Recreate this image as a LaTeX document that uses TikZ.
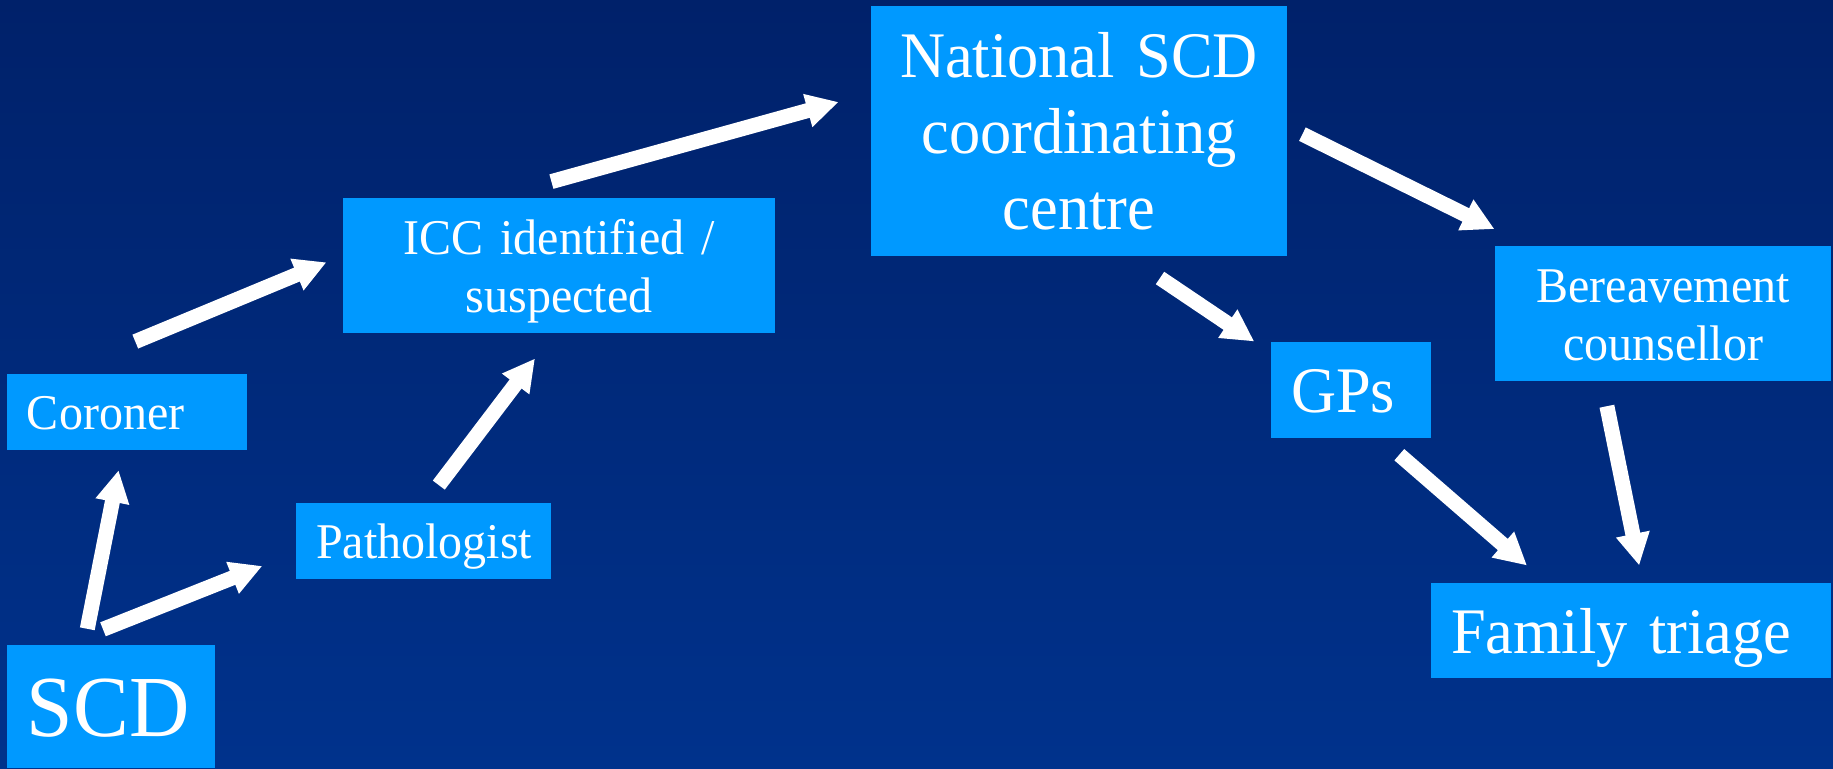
\documentclass[tikz,border=0pt]{standalone}
\usepackage{fontspec}
\setmainfont{Liberation Serif}[FakeStretch=0.96]
\usetikzlibrary{arrows.meta,calc}

\definecolor{bgtop}{HTML}{00216A}
\definecolor{bgbottom}{HTML}{00328C}
\definecolor{boxblue}{HTML}{0099FF}

% struts that give every line of box text the same cap room and descender room
\newcommand\capstrut{\rule{0pt}{0.95em}}
\newcommand\descstrut{\rule[-0.25em]{0pt}{0.25em}}

\begin{document}
\begin{tikzpicture}[
  x=1pt, y=-1pt,
  box/.style={rectangle, fill=boxblue, text=white, inner ysep=0pt},
  leftbox/.style={box, inner xsep=20pt, align=left},
  midbox/.style={box, inner xsep=10pt, align=center},
  huge text/.style={font=\fontsize{87}{100}\selectfont},
  big text/.style={font=\fontsize{65}{76}\selectfont},
  mid text/.style={font=\fontsize{50}{58}\selectfont},
  flowarrow/.style={draw=white, line width=15pt,
    -{Triangle[length=32pt,width=32pt]}},
]
\useasboundingbox (0,0) rectangle (1833,768);
\shade[top color=bgtop, bottom color=bgbottom] (0,0) rectangle (1833,768);

% boxes
\node[leftbox, huge text, minimum width=208pt, minimum height=123pt, text width=168pt]
  (scd) at (111,706.5) {\capstrut SCD\descstrut};
\node[leftbox, mid text, minimum width=240pt, minimum height=76pt, text width=200pt]
  (coroner) at (127,412) {\capstrut Coroner\descstrut};
\node[leftbox, mid text, minimum width=255pt, minimum height=76pt, text width=215pt]
  (path) at (423.5,541) {\capstrut Pathologist\descstrut};
\node[midbox, mid text, minimum width=432pt, minimum height=135pt, text width=412pt]
  (icc) at (559,265.5) {\capstrut ICC identified /\\suspected\descstrut};
\node[midbox, big text, minimum width=416pt, minimum height=250pt, text width=396pt]
  (nat) at (1079,131) {\capstrut National SCD\\coordinating\\centre\descstrut};
\node[leftbox, big text, minimum width=160pt, minimum height=96pt, text width=120pt]
  (gps) at (1351,390) {\capstrut GPs\descstrut};
\node[midbox, mid text, minimum width=336pt, minimum height=135pt, text width=316pt]
  (ber) at (1663,313.5) {\capstrut Bereavement\\counsellor\descstrut};
\node[leftbox, big text, minimum width=400pt, minimum height=95pt, text width=360pt]
  (fam) at (1631,630.5) {\capstrut Family triage\descstrut};

% referral arrows
\draw[flowarrow] ($(scd.north)+(-23.7,-16)$) -- ($(coroner.south)+(-8.4,20)$);
\draw[flowarrow] ($(scd.north)+(-8,-15.5)$) -- ($(path.west)+(-33.5,25)$);
\draw[flowarrow] ($(coroner.north)+(8.3,-32.2)$) -- ($(icc.west)+(-16.3,-3.2)$);
\draw[flowarrow] ($(path.north)+(15.3,-17.7)$) -- ($(icc.south)+(-24,25.3)$);
\draw[flowarrow] ($(icc.north)+(-7.6,-16.2)$) -- ($(nat.west)+(-32.2,-29)$);
\draw[flowarrow] ($(nat.south)+(81,21.8)$) -- ($(gps.north west)+(-16.5,-0.3)$);
\draw[flowarrow] ($(nat.east)+(15.2,3.2)$) -- ($(ber.north west)+(-0.3,-16.7)$);
\draw[flowarrow] ($(gps.south)+(48.3,16.5)$) -- ($(fam.north)+(-104,-17.3)$);
\draw[flowarrow] ($(ber.south)+(-56.1,25)$) -- ($(fam.north)+(8.2,-17.3)$);
\end{tikzpicture}
\end{document}
